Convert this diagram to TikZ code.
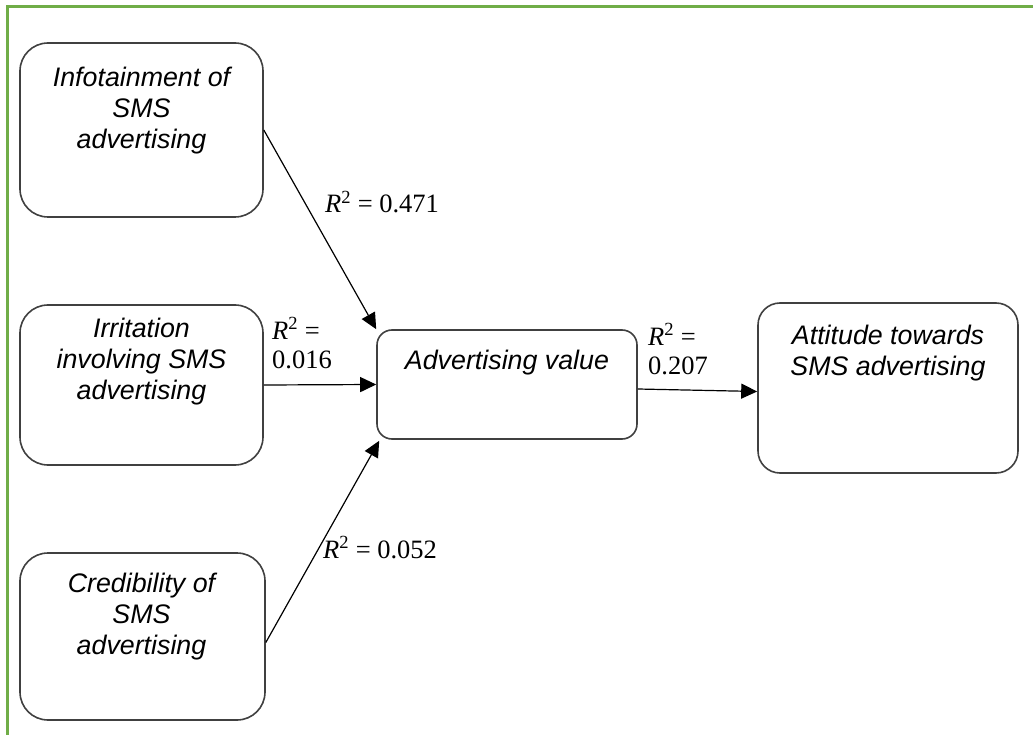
\documentclass[tikz,border=0pt]{standalone}
\usepackage{fontspec}
\setmainfont{Liberation Serif}
\newfontfamily\arialfont{Liberation Sans}
\usetikzlibrary{arrows.meta,calc}
\definecolor{framegreen}{HTML}{70AD47}
\definecolor{boxgray}{HTML}{404040}
\tikzset{
  box/.style={draw=boxgray, line width=1.6pt, fill=white, inner sep=0pt},
  boxtext/.style={align=center, inner sep=0pt, font=\arialfont\itshape\fontsize{26.8}{31}\selectfont},
  rlabel/.style={align=left, inner sep=0pt, anchor=base west, font=\fontsize{26.5}{29}\selectfont},
  conn/.style={draw=black, line width=1.2pt, -{Triangle[length=16pt,width=15pt]}},
}
\begin{document}
\begin{tikzpicture}[x=1pt,y=-1pt]
\useasboundingbox (0,0) rectangle (1033,735);
\draw[framegreen, line width=3pt] (7,737) -- (7,7) -- (1035,7);
% boxes
\node[box, rounded corners=28pt, minimum width=243pt, minimum height=174pt] (info) at (141.5,130) {};
\node[box, rounded corners=28pt, minimum width=243pt, minimum height=160pt] (irr) at (141.5,385) {};
\node[box, rounded corners=28pt, minimum width=245pt, minimum height=167pt] (cred) at (142.5,636.5) {};
\node[box, rounded corners=15pt, minimum width=260pt, minimum height=109pt] (adv) at (507,384.5) {};
\node[box, rounded corners=22pt, minimum width=260pt, minimum height=170pt] (att) at (888,388) {};
% box texts
\node[boxtext] (infot) at (141.5,111) {Infotainment of\\SMS\\advertising};
\node[boxtext] (irrt) at (141.5,362) {Irritation\\involving SMS\\advertising};
\node[boxtext] (credt) at (141.5,617) {Credibility of\\SMS\\advertising};
\node[boxtext] (advt) at (507,363) {Advertising value};
\node[boxtext] (attt) at (888,353.5) {Attitude towards\\SMS advertising};
% connectors
\draw[conn] (info.east) -- (adv.north west);
\draw[conn] (irr.east) -- (adv.west);
\draw[conn] ($(cred.east)+(0,6)$) -- ($(adv.south west)+(3,1)$);
\draw[conn] ($(adv.east)+(0,4.5)$) -- ($(att.west)+(0,3.5)$);
% labels
\node[rlabel] (l1) at (325,213) {\textit{R}\textsuperscript{2} = 0.471};
\node[rlabel] (l2) at (272,368) {\textit{R}\textsuperscript{2} =\\0.016};
\node[rlabel] (l3) at (648,374) {\textit{R}\textsuperscript{2} =\\0.207};
\node[rlabel] (l4) at (323,558) {\textit{R}\textsuperscript{2} = 0.052};
\end{tikzpicture}
\end{document}
